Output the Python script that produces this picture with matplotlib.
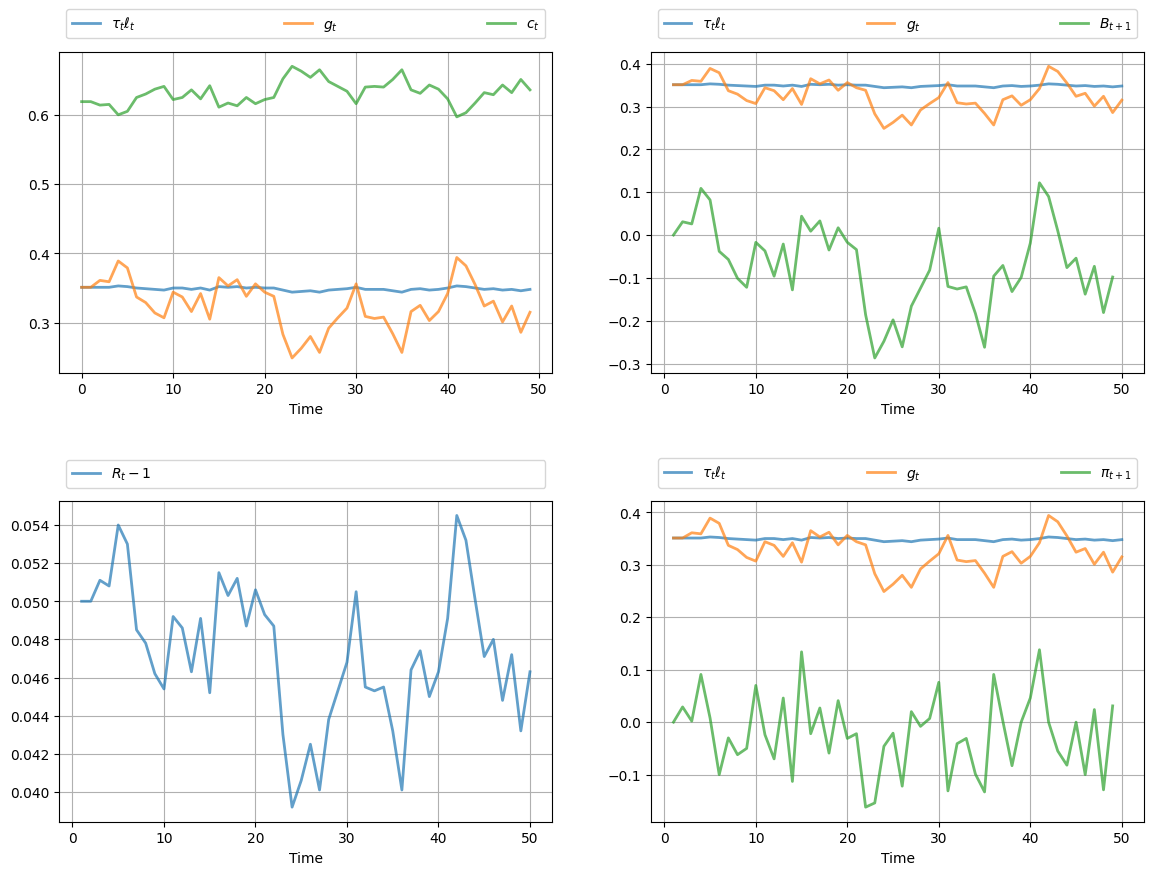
import numpy as np
import matplotlib
matplotlib.use('Agg')
import matplotlib.pyplot as plt

# values
tau_l = [0.351, 0.351, 0.351, 0.351, 0.353, 0.352, 0.350, 0.349, 0.348, 0.347,
         0.350, 0.350, 0.348, 0.350, 0.347, 0.352, 0.351, 0.352, 0.350, 0.351,
         0.350, 0.350, 0.347, 0.344, 0.345, 0.346, 0.344, 0.347, 0.348, 0.349,
         0.351, 0.348, 0.348, 0.348, 0.346, 0.344, 0.348, 0.349, 0.347, 0.348,
         0.350, 0.353, 0.352, 0.350, 0.348, 0.349, 0.347, 0.348, 0.346, 0.348]

g = [0.351, 0.351, 0.361, 0.359, 0.389, 0.379, 0.337, 0.329, 0.314, 0.307,
     0.344, 0.337, 0.316, 0.342, 0.305, 0.365, 0.353, 0.362, 0.338, 0.356,
     0.344, 0.338, 0.283, 0.249, 0.263, 0.280, 0.257, 0.292, 0.307, 0.321,
     0.356, 0.309, 0.306, 0.308, 0.284, 0.257, 0.316, 0.325, 0.303, 0.316,
     0.342, 0.394, 0.382, 0.355, 0.324, 0.331, 0.301, 0.324, 0.286, 0.315]

c = [0.619, 0.619, 0.614, 0.615, 0.600, 0.605, 0.625, 0.630, 0.637, 0.641,
     0.622, 0.625, 0.636, 0.623, 0.642, 0.611, 0.617, 0.613, 0.625, 0.616,
     0.622, 0.625, 0.652, 0.670, 0.663, 0.654, 0.665, 0.648, 0.641, 0.634,
     0.616, 0.640, 0.641, 0.640, 0.651, 0.665, 0.636, 0.631, 0.643, 0.637,
     0.623, 0.597, 0.603, 0.617, 0.632, 0.629, 0.643, 0.632, 0.651, 0.636]

B = [0.000, 0.031, 0.026, 0.109, 0.082, -0.038, -0.057, -0.101, -0.122, -0.017,
     -0.037, -0.096, -0.021, -0.128, 0.044, 0.009, 0.033, -0.035, 0.017, -0.017,
     -0.034, -0.186, -0.287, -0.248, -0.198, -0.261, -0.166, -0.124, -0.082, 0.016,
     -0.120, -0.126, -0.121, -0.183, -0.262, -0.096, -0.071, -0.132, -0.099, -0.019,
     0.122, 0.090, 0.010, -0.076, -0.054, -0.138, -0.073, -0.181, -0.098]

R = [0.0500, 0.0500, 0.0511, 0.0508, 0.0540, 0.0530, 0.0485, 0.0478, 0.0462, 0.0454,
     0.0492, 0.0486, 0.0463, 0.0491, 0.0452, 0.0515, 0.0503, 0.0512, 0.0487, 0.0506,
     0.0493, 0.0487, 0.0430, 0.0392, 0.0406, 0.0425, 0.0401, 0.0438, 0.0453, 0.0468,
     0.0505, 0.0455, 0.0453, 0.0455, 0.0432, 0.0401, 0.0464, 0.0474, 0.0450, 0.0463,
     0.0491, 0.0545, 0.0532, 0.0501, 0.0471, 0.0480, 0.0448, 0.0472, 0.0432, 0.0463]

pi = [0.000, 0.029, 0.002, 0.091, 0.008, -0.100, -0.030, -0.062, -0.050, 0.070,
      -0.024, -0.070, 0.046, -0.113, 0.134, -0.022, 0.027, -0.059, 0.041, -0.031,
      -0.022, -0.162, -0.154, -0.046, -0.021, -0.122, 0.020, -0.008, 0.007, 0.076,
      -0.131, -0.041, -0.031, -0.099, -0.133, 0.091, 0.002, -0.083, 0.000, 0.046,
      0.138, 0.000, -0.055, -0.082, 0.000, -0.100, 0.024, -0.129, 0.031]

T = len(g)
t0 = np.arange(T)            # top-left starts at 0
t1 = np.arange(1, T + 1)     # the others start at 1
t1s = np.arange(1, len(B) + 1)

fig, axes = plt.subplots(2, 2, figsize=(14, 10))
plt.subplots_adjust(hspace=0.4)
for ax in axes.flatten():
    ax.grid()
    ax.set_xlabel('Time')

bbox = (0., 1.02, 1., .102)
legend_args = {'bbox_to_anchor': bbox, 'loc': 3, 'mode': 'expand'}
p_args = {'lw': 2, 'alpha': 0.7}

ax = axes[0, 0]
ax.plot(t0, tau_l, label=r'$\tau_t \ell_t$', **p_args)
ax.plot(t0, g, label='$g_t$', **p_args)
ax.plot(t0, c, label='$c_t$', **p_args)
ax.legend(ncol=3, **legend_args)

ax = axes[0, 1]
ax.plot(t1, tau_l, label=r'$\tau_t \ell_t$', **p_args)
ax.plot(t1, g, label='$g_t$', **p_args)
ax.plot(t1s, B, label='$B_{t+1}$', **p_args)
ax.legend(ncol=3, **legend_args)

ax = axes[1, 0]
ax.plot(t1, R, label='$R_t - 1$', **p_args)
ax.legend(ncol=1, **legend_args)

ax = axes[1, 1]
ax.plot(t1, tau_l, label=r'$\tau_t \ell_t$', **p_args)
ax.plot(t1, g, label='$g_t$', **p_args)
ax.plot(t1s, pi, label=r'$\pi_{t+1}$', **p_args)
ax.legend(ncol=3, **legend_args)

plt.savefig('out.png', dpi=100, bbox_inches='tight')
